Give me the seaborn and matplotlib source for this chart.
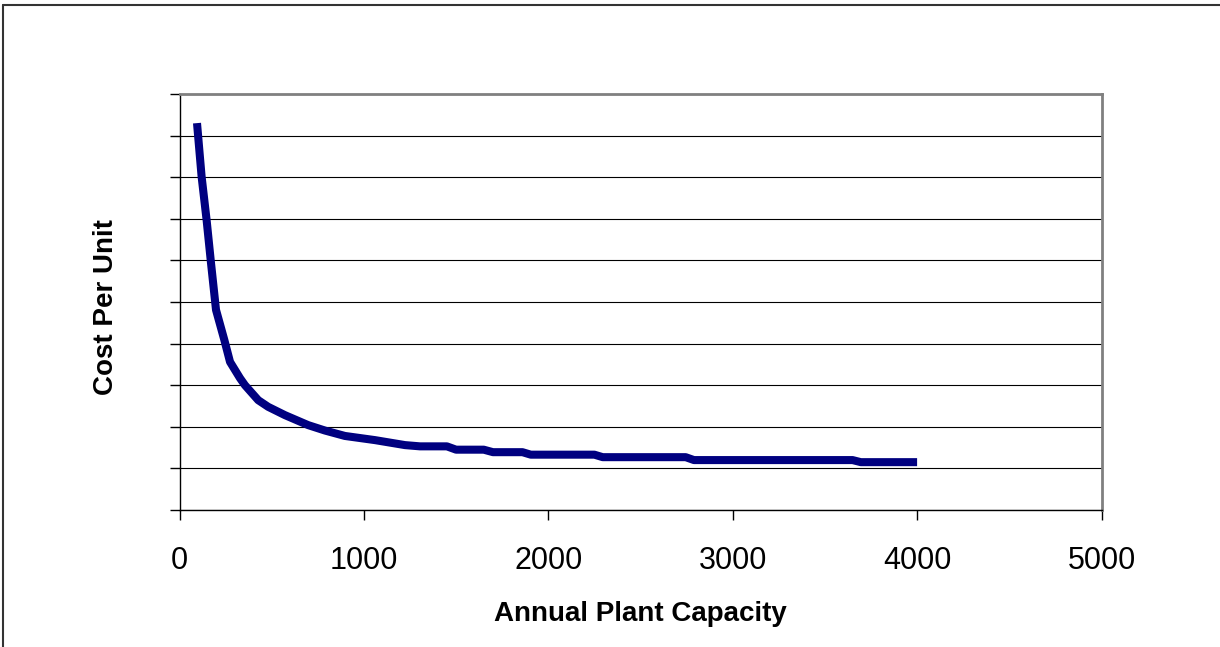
import matplotlib
matplotlib.use("Agg")
import matplotlib.pyplot as plt
from matplotlib.lines import Line2D
import seaborn as sns
import pandas as pd

# Data
capacity = [95, 120, 147, 171, 198, 243, 274, 328, 355, 427, 481, 572, 698, 789,
            897, 1060, 1223, 1304, 1450, 1500, 1650, 1700, 1860, 1905, 2250, 2295,
            2745, 2790, 3650, 3695, 4000]
cost_per_unit = [9.30, 8.01, 6.97, 5.93, 4.81, 4.09, 3.56, 3.17, 3.00, 2.64, 2.48,
                 2.28, 2.04, 1.91, 1.78, 1.68, 1.56, 1.53, 1.53, 1.45, 1.45, 1.39,
                 1.39, 1.33, 1.33, 1.27, 1.27, 1.20, 1.20, 1.15, 1.15]
x_ticks = [0, 1000, 2000, 3000, 4000, 5000]
y_ticks = list(range(0, 11))

sns.set_style("white")
plt.rcParams["font.family"] = ["Liberation Sans", "DejaVu Sans"]
plt.rcParams["text.color"] = "black"
plt.rcParams["axes.labelcolor"] = "black"
plt.rcParams["xtick.color"] = "black"
plt.rcParams["ytick.color"] = "black"

df = pd.DataFrame({"capacity": capacity, "cost": cost_per_unit})

fig = plt.figure(figsize=(12.2, 6.47), dpi=100)
W, H = 1220, 647
ax = fig.add_axes([179.5 / W, 1 - 510 / H, (1101.5 - 179.5) / W, (510 - 94) / H])

sns.lineplot(data=df, x="capacity", y="cost", ax=ax, sort=False, estimator=None,
             color="#000080", linewidth=5.8, solid_capstyle="butt",
             solid_joinstyle="round")

ax.set_xlim(0, 5000)
ax.set_ylim(0, 10)
ax.set_xticks(x_ticks)
ax.set_xticklabels([str(t) for t in x_ticks])
ax.set_yticks(y_ticks)
ax.set_yticklabels([])

ax.grid(axis="y", color="black", linewidth=0.8)
ax.grid(axis="x", visible=False)
ax.set_axisbelow(True)

for side in ("left", "bottom"):
    ax.spines[side].set_color("black")
    ax.spines[side].set_linewidth(1.0)
for side in ("top", "right"):
    ax.spines[side].set_color("#808080")
    ax.spines[side].set_linewidth(2.0)

ax.tick_params(axis="x", direction="out", length=7, width=1.0, colors="black",
               labelsize=22, pad=19, bottom=True)
ax.tick_params(axis="y", direction="out", length=7, width=1.0, colors="black",
               left=True)

ax.set_xlabel("Annual Plant Capacity", fontsize=20, fontweight="bold", color="black")
ax.set_ylabel("Cost Per Unit", fontsize=20, fontweight="bold", color="black")
ax.xaxis.set_label_coords(0.5, (510 - 621) / 416)
ax.xaxis.label.set_va("baseline")
ax.yaxis.set_label_coords((113.3 - 179.5) / 922, 0.489)
ax.yaxis.label.set_va("baseline")

# Outer chart frame (top and left edges visible in the reference)
fig.add_artist(Line2D([3 / W, 1.0], [1 - 5 / H, 1 - 5 / H], color="#333333",
                      linewidth=1.5, transform=fig.transFigure))
fig.add_artist(Line2D([3 / W, 3 / W], [0.0, 1 - 5 / H], color="#333333",
                      linewidth=1.5, transform=fig.transFigure))

fig.savefig("out.png", dpi=100)
